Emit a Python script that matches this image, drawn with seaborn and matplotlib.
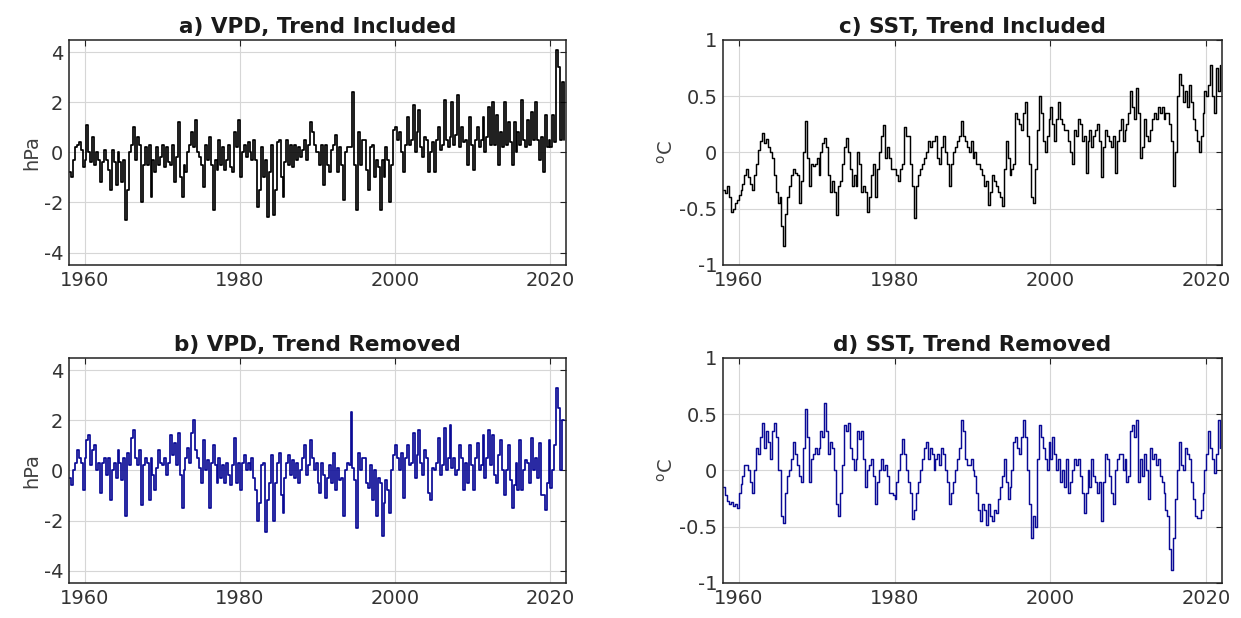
import numpy as np
import pandas as pd
import matplotlib
matplotlib.use("Agg")
import matplotlib.pyplot as plt
import seaborn as sns

# ---------------- data (quarterly values) ----------------
start_year = 1958
end_year = 2022

vpd_trend = [
    -0.8, -1.0, -0.3, 0.2,   0.3, 0.4, 0.1, -0.6,   -0.3, 1.1, 0.0, -0.4,   0.6, -0.5, 0.0, -0.3,
    -1.2, -0.4, 0.1, -0.3,   -0.7, -1.5, 0.1, -0.4,   -1.3, 0.0, -0.4, -1.2,   -0.3, -2.7, -1.5, 0.0,
    0.3, 1.0, -0.3, 0.6,   0.3, -2.0, -0.5, 0.2,   -0.5, 0.3, -1.8, -0.3,   -0.8, 0.2, -0.5, -0.2,
    0.3, -0.6, 0.2, -0.4,   -0.5, 0.3, -1.2, -0.2,   1.2, -1.0, -1.8, -0.5,   -0.8, 0.0, 0.3, 0.8,
    0.2, 1.3, 0.0, -0.2,   -0.5, -1.4, 0.3, -0.3,   0.6, -0.5, -2.3, -0.3,   -0.7, 0.5, -0.5, 0.2,
    -0.7, -0.3, 0.3, -0.6,   -0.8, 0.8, 0.2, 1.3,   -1.0, 0.0, 0.3, -0.2,   0.4, 0.0, -0.3, 0.5,
    -0.3, -2.2, -1.5, 0.2,   -1.0, -0.3, -2.6, -0.8,   0.3, -2.5, -1.5, 0.4,   0.5, -1.0, -1.8, -0.4,
    0.5, -0.5, 0.3, -0.6,   0.3, -0.3, 0.2, -0.2,   0.1, 0.5, -0.3, 0.3,   1.2, 0.8, 0.3, 0.0,
    0.0, -0.5, 0.3, -1.3,   0.3, -0.5, -0.8, 0.1,   0.3, 0.7, -0.8, 0.2,   -0.5, -1.9, 0.0, 0.2,
    0.2, 0.2, 2.4, -0.5,   -2.3, 0.8, -0.5, 0.5,   0.5, -0.7, -1.5, 0.2,   0.3, -1.0, -0.3, -0.6,
    -2.3, -0.3, -1.0, 0.2,   -0.3, -2.0, -0.5, 0.9,   1.0, 0.5, 0.8, 0.0,   -0.8, 0.3, 1.4, 0.3,
    0.5, 1.9, 0.0, 0.8,   1.7, 0.2, -0.2, 0.6,   0.5, -0.8, 0.0, 0.4,   -0.8, 0.5, 1.0, 0.1,
    0.3, 2.1, 0.5, 0.2,   0.6, 2.0, 0.3, 0.7,   2.3, 0.2, 1.0, 0.4,   0.5, -0.5, 1.4, 0.3,
    -0.7, 0.5, 1.0, 0.2,   0.5, 1.4, 0.0, 0.6,   1.8, 0.3, 2.0, 0.3,   1.5, -0.5, 0.8, 0.2,
    2.0, 0.3, 1.2, 0.4,   -0.5, 1.2, 0.0, 0.8,   0.3, 2.1, 0.5, 0.2,   1.3, 0.3, 1.6, 0.5,
    2.0, 0.5, -0.3, 0.6,   -0.8, 1.5, 0.2, 0.5,   0.2, 1.5, 0.4, 4.1,   3.4, 0.5, 2.8, 0.5,
]

vpd_detrended = [
    -0.3, -0.6, 0.0, 0.3,   0.8, 0.5, 0.3, -0.8,   0.5, 1.2, 1.4, 0.2,   0.8, 1.0, 0.0, 0.3,
    -0.9, 0.3, 0.5, -0.2,   0.5, -1.2, 0.0, 0.3,   -0.3, 0.8, 0.3, -0.4,   0.5, -1.8, 0.7, 0.2,
    1.3, 1.6, 0.5, 0.2,   0.8, -1.4, 0.2, 0.5,   0.3, -1.2, 0.5, -0.2,   -0.8, 0.1, 0.8, 0.3,
    0.2, 0.5, -0.2, 0.3,   1.4, 0.6, 1.1, 0.2,   1.5, -0.2, -1.5, 0.0,   0.5, 0.9, 0.3, 1.5,
    2.0, 0.8, 0.5, 0.1,   -0.5, 1.2, 0.0, 0.4,   -1.5, 0.3, 1.0, 0.2,   -0.5, 0.5, -0.3, 0.2,
    -0.5, 0.3, -0.2, -0.6,   0.2, 1.3, -0.5, 0.3,   -0.8, 0.3, 0.6, 0.0,   0.3, 0.0, 0.5, -0.3,
    -0.8, -2.0, -1.3, 0.2,   0.3, -2.45, -1.2, -0.5,   0.6, -2.0, -0.5, 0.3,   0.7, -1.0, -1.7, -0.3,
    0.3, 0.6, -0.2, 0.4,   -0.3, 0.3, -0.5, 0.0,   0.5, 1.0, -0.2, 0.2,   1.2, 0.5, 0.0, 0.3,
    -0.5, -0.9, 0.3, -0.2,   -1.1, -0.3, 0.2, -0.5,   0.7, -0.8, 0.1, -0.4,   -0.3, -1.8, 0.0, 0.3,
    0.2, 2.35, 0.1, -0.4,   -2.3, 0.7, 0.0, 0.5,   0.5, -0.5, -0.7, 0.2,   -1.2, 0.0, -1.8, -0.3,
    -0.5, -2.6, -1.3, -0.4,   -0.8, -1.7, 0.0, 0.6,   1.0, 0.5, 0.0, 0.7,   -1.1, 0.5, 1.0, 0.2,
    0.3, 1.5, -0.3, 0.6,   1.6, 0.3, -0.2, 0.8,   0.5, -0.9, -1.2, 0.1,   0.0, 0.3, 1.3, -0.2,
    0.2, 1.7, 0.0, 0.5,   1.8, 0.1, 0.5, -0.2,   0.0, 1.0, 0.5, -0.8,   0.3, -0.5, 1.0, 0.2,
    -0.8, 0.5, 1.1, 0.0,   0.2, 1.4, -0.3, 0.5,   1.6, 0.2, 1.4, -0.2,   -0.5, 0.6, 1.2, 0.0,
    -1.0, 0.0, 1.0, -0.4,   -1.5, -0.6, 0.3, -0.8,   1.2, -0.8, 0.0, 0.4,   0.3, -0.5, 1.3, 0.0,
    0.5, -0.3, 1.1, -1.0,   -1.0, -1.6, -0.5, 1.2,   -0.7, 0.0, 1.0, 3.3,   2.5, 0.0, 2.0, 2.0,
]

sst_trend = [
    -0.33, -0.36, -0.30, -0.40,   -0.53, -0.50, -0.45, -0.42,   -0.38, -0.33, -0.28, -0.20,   -0.15, -0.22, -0.28, -0.33,
    -0.20, -0.10, 0.02, 0.10,   0.17, 0.08, 0.12, 0.05,   0.00, -0.05, -0.20, -0.35,   -0.45, -0.40, -0.65, -0.83,
    -0.55, -0.40, -0.30, -0.20,   -0.15, -0.18, -0.20, -0.45,   -0.25, 0.00, 0.28, -0.05,   -0.30, -0.10, -0.12, -0.10,
    -0.05, -0.20, 0.00, 0.08,   0.13, 0.05, -0.20, -0.35,   -0.25, -0.35, -0.56, -0.30,   -0.25, -0.10, 0.05, 0.13,
    0.00, -0.15, -0.30, -0.20,   -0.30, 0.00, -0.10, -0.35,   -0.30, -0.35, -0.53, -0.40,   -0.20, -0.10, -0.40, -0.15,
    0.00, 0.15, 0.24, -0.05,   0.05, -0.05, -0.15, -0.15,   -0.15, -0.20, -0.25, -0.15,   -0.10, 0.23, 0.15, 0.15,
    -0.10, -0.30, -0.58, -0.30,   -0.20, -0.15, -0.10, -0.05,   0.00, 0.10, 0.05, 0.10,   0.10, 0.15, -0.05, -0.10,
    0.05, 0.15, 0.00, -0.10,   -0.30, -0.10, 0.00, 0.05,   0.10, 0.15, 0.28, 0.15,   0.10, 0.05, 0.00, 0.10,
    -0.05, 0.00, -0.10, -0.10,   -0.15, -0.20, -0.30, -0.25,   -0.47, -0.35, -0.20, -0.25,   -0.30, -0.35, -0.40, -0.48,
    -0.15, 0.10, -0.05, -0.20,   -0.15, -0.10, 0.35, 0.30,   0.25, 0.20, 0.35, 0.45,   0.15, -0.10, -0.40, -0.45,
    -0.15, 0.20, 0.50, 0.35,   0.10, 0.00, 0.15, 0.30,   0.40, 0.25, 0.10, 0.30,   0.45, 0.30, 0.25, 0.20,
    0.20, 0.10, 0.00, -0.10,   0.20, 0.15, 0.30, 0.25,   0.10, 0.15, -0.18, 0.10,   0.20, 0.05, 0.15, 0.20,
    0.25, 0.10, -0.22, 0.05,   0.20, 0.15, 0.10, 0.05,   0.15, -0.18, 0.10, 0.20,   0.30, 0.10, 0.20, 0.25,
    0.35, 0.55, 0.40, 0.30,   0.57, 0.35, -0.05, 0.05,   0.30, 0.15, 0.10, 0.20,   0.30, 0.35, 0.30, 0.40,
    0.35, 0.40, 0.30, 0.35,   0.35, 0.25, 0.10, -0.30,   0.00, 0.50, 0.70, 0.60,   0.45, 0.55, 0.40, 0.60,
    0.45, 0.30, 0.20, 0.10,   0.00, 0.15, 0.35, 0.55,   0.50, 0.60, 0.78, 0.50,   0.35, 0.75, 0.55, 0.78,
]

sst_detrended = [
    -0.15, -0.22, -0.27, -0.30,   -0.28, -0.32, -0.30, -0.33,   -0.20, -0.12, -0.05, 0.05,   0.05, 0.00, -0.10, -0.20,
    0.00, 0.20, 0.15, 0.30,   0.42, 0.20, 0.35, 0.25,   0.10, 0.35, 0.42, 0.30,   0.00, 0.00, -0.40, -0.47,
    -0.20, -0.05, 0.00, 0.10,   0.25, 0.15, 0.05, -0.05,   -0.10, 0.20, 0.55, 0.30,   -0.10, 0.10, 0.15, 0.20,
    0.15, 0.20, 0.35, 0.30,   0.60, 0.35, 0.15, 0.25,   0.20, 0.00, -0.30, -0.40,   -0.20, 0.05, 0.40, 0.35,
    0.42, 0.20, 0.10, 0.00,   0.10, 0.35, 0.28, 0.35,   0.10, -0.15, 0.00, 0.05,   0.10, -0.05, -0.30, -0.10,
    0.00, 0.10, 0.00, 0.05,   -0.05, -0.20, -0.20, -0.22,   -0.25, -0.10, 0.00, 0.15,   0.28, 0.15, 0.00, -0.10,
    -0.20, -0.43, -0.35, -0.20,   -0.10, 0.00, 0.10, 0.20,   0.25, 0.10, 0.20, 0.15,   0.00, 0.10, 0.15, 0.05,
    0.20, 0.15, 0.00, -0.10,   -0.30, -0.20, -0.10, 0.00,   0.10, 0.20, 0.45, 0.35,   0.10, 0.05, 0.05, 0.10,
    0.00, -0.05, -0.20, -0.35,   -0.45, -0.30, -0.35, -0.48,   -0.30, -0.40, -0.45, -0.35,   -0.38, -0.25, -0.15, -0.05,
    0.10, -0.10, -0.25, -0.15,   0.00, 0.25, 0.30, 0.20,   0.15, 0.30, 0.45, 0.30,   0.00, -0.30, -0.60, -0.40,
    -0.50, 0.10, 0.40, 0.30,   0.20, 0.10, 0.00, 0.25,   0.10, 0.30, 0.15, 0.00,   0.10, -0.10, 0.00, -0.15,
    0.10, -0.20, -0.10, 0.00,   0.10, 0.05, 0.10, -0.05,   -0.20, -0.38, -0.20, 0.00,   -0.15, 0.10, -0.05, -0.10,
    -0.20, -0.10, -0.45, -0.10,   0.15, 0.10, -0.05, -0.20,   -0.30, 0.00, 0.10, 0.15,   0.15, 0.00, 0.10, -0.10,
    -0.05, 0.35, 0.40, 0.30,   0.45, -0.10, 0.10, -0.05,   0.15, 0.00, -0.25, 0.20,   0.10, 0.15, 0.05, 0.10,
    -0.05, -0.10, -0.20, -0.35,   -0.40, -0.70, -0.88, -0.60,   -0.25, 0.00, 0.25, 0.05,   0.00, 0.20, 0.15, 0.10,
    -0.10, -0.25, -0.40, -0.42,   -0.42, -0.35, -0.20, 0.00,   0.15, 0.35, 0.20, 0.10,   -0.02, 0.15, 0.45, 0.20,
]

titles = ["a) VPD, Trend Included", "b) VPD, Trend Removed",
          "c) SST, Trend Included", "d) SST, Trend Removed"]
vpd_ticks = [-4, -2, 0, 2, 4]
sst_ticks = [-1, -0.5, 0, 0.5, 1]
sst_ticklabels = ["-1", "-0.5", "0", "0.5", "1"]
year_ticks = [1960, 1980, 2000, 2020]

# ---------------- figure ----------------
sns.set_theme(style="whitegrid")
plt.rcParams["font.family"] = ["DejaVu Sans"]

fig = plt.figure(figsize=(12.41, 6.18), dpi=100)
W, H = 1241, 618

def make_ax(l, r, t, b):
    return fig.add_axes([l / W, 1 - b / H, (r - l) / W, (b - t) / H])

ax_a = make_ax(69, 566, 40, 265)
ax_b = make_ax(69, 566, 358, 583)
ax_c = make_ax(723, 1222, 40, 265)
ax_d = make_ax(723, 1222, 358, 583)

years = start_year + np.arange(len(vpd_trend)) / 4.0

blue = "#0a0a96"
panels = [
    (ax_a, vpd_trend, "black", titles[0], "hPa", "vpd", 1.25),
    (ax_b, vpd_detrended, blue, titles[1], "hPa", "vpd", 1.25),
    (ax_c, sst_trend, "black", titles[2], r"$^{\mathrm{o}}$C", "sst", 1.05),
    (ax_d, sst_detrended, blue, titles[3], r"$^{\mathrm{o}}$C", "sst", 1.05),
]

for ax, vals, col, title, ylab, kind, lw in panels:
    df = pd.DataFrame({"year": years, "value": vals})
    sns.lineplot(data=df, x="year", y="value", ax=ax, color=col,
                 linewidth=lw, drawstyle="steps-post")
    ax.set_xlim(start_year, end_year)
    ax.set_xticks(year_ticks)
    ax.set_xticklabels([str(y) for y in year_ticks])
    if kind == "vpd":
        ax.set_ylim(-4.5, 4.5)
        ax.set_yticks(vpd_ticks)
        ax.set_yticklabels([str(v) for v in vpd_ticks])
    else:
        ax.set_ylim(-1, 1)
        ax.set_yticks(sst_ticks)
        ax.set_yticklabels(sst_ticklabels)
    ax.set_xlabel("")
    ax.set_ylabel(ylab, fontsize=14, color="#404040", labelpad=2)
    ax.set_title(title, fontsize=15.5, fontweight="bold", color="#1a1a1a", pad=5)
    ax.set_facecolor("white")
    ax.grid(True, color="#d6d6d6", linewidth=0.8)
    for s in ax.spines.values():
        s.set_visible(True)
        s.set_color("#222222")
        s.set_linewidth(1.1)
    ax.tick_params(axis="both", which="both", direction="in", length=4,
                   width=0.8, color="#222222", labelsize=14, labelcolor="#333333",
                   top=True, right=True, pad=4)

fig.savefig("out.png", dpi=100, facecolor="white")
